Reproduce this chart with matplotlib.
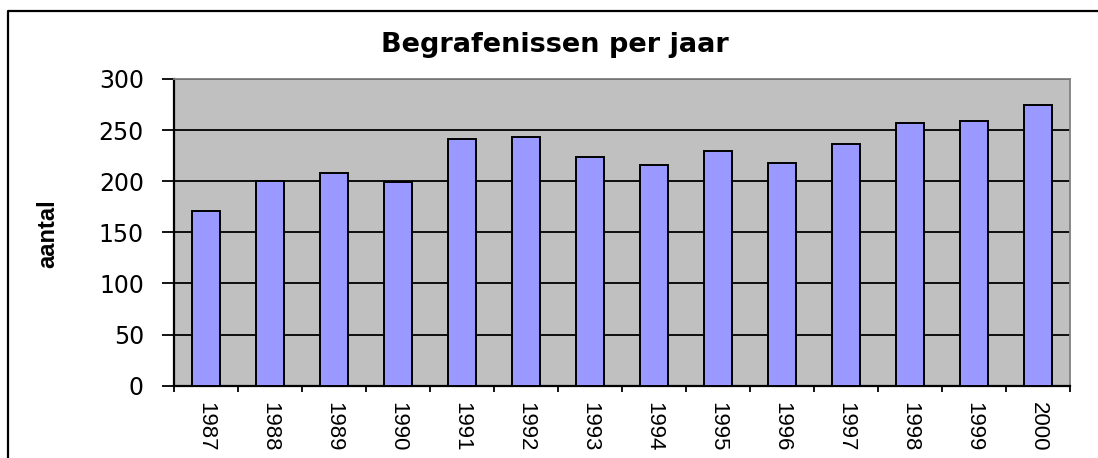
import matplotlib
matplotlib.use("Agg")
import matplotlib.pyplot as plt
from matplotlib.lines import Line2D
import numpy as np

years = ["1987", "1988", "1989", "1990", "1991", "1992", "1993",
         "1994", "1995", "1996", "1997", "1998", "1999", "2000"]
counts = [171, 200, 208, 199, 241, 243, 224, 216, 230, 218, 236, 257, 259, 275]
yticks = [0, 50, 100, 150, 200, 250, 300]
title = "Begrafenissen per jaar"
ylabel = "aantal"

W, H = 1098, 458
fig = plt.figure(figsize=(W / 100, H / 100), dpi=100)
fig.patch.set_facecolor("white")

ax = fig.add_axes([174 / W, 1 - 385.7 / H, (1070 - 174) / W, (385.7 - 79) / H])
ax.set_facecolor("#C0C0C0")

x = np.arange(len(years))
ax.set_axisbelow(True)
ax.yaxis.grid(True, color="black", linewidth=1.3)
ax.bar(x, counts, width=0.44, color="#9999FF", edgecolor="black", linewidth=1.4, zorder=3)

ax.set_xlim(-0.5, len(years) - 0.5)
ax.set_ylim(0, 300)
ax.set_yticks(yticks)
ax.set_yticklabels([str(v) for v in yticks], fontsize=17, family="DejaVu Sans")
ax.tick_params(axis="y", direction="out", length=8.6, width=1.3, pad=13, colors="black")

ax.set_xticks(x)
ax.set_xticklabels(years, rotation=-90, fontsize=16, family="Liberation Sans",
                   ha="center", va="top")
ax.set_xticks(np.arange(-0.5, len(years), 1.0), minor=True)
ax.tick_params(axis="x", which="major", length=0, pad=12)
ax.tick_params(axis="x", which="minor", direction="out", length=4.5, width=1.3)

for s in ["left", "bottom"]:
    ax.spines[s].set_color("black")
    ax.spines[s].set_linewidth(1.6)
for s in ["top", "right"]:
    ax.spines[s].set_color("#808080")
    ax.spines[s].set_linewidth(1.3)

fig.text(555 / W, 1 - 52 / H, title, fontsize=19.5, fontweight="bold",
         family="DejaVu Sans", ha="center", va="baseline")
fig.text(48 / W, 1 - 234 / H, ylabel, fontsize=17, fontweight="bold",
         family="Liberation Sans", rotation=90, ha="center", va="center")

# outer chart frame (left and top edges visible)
fig.add_artist(Line2D([8 / W, 8 / W, 1.0], [0.0, 1 - 11 / H, 1 - 11 / H],
                      transform=fig.transFigure, color="black", linewidth=1.6))

fig.savefig("out.png", dpi=100)
